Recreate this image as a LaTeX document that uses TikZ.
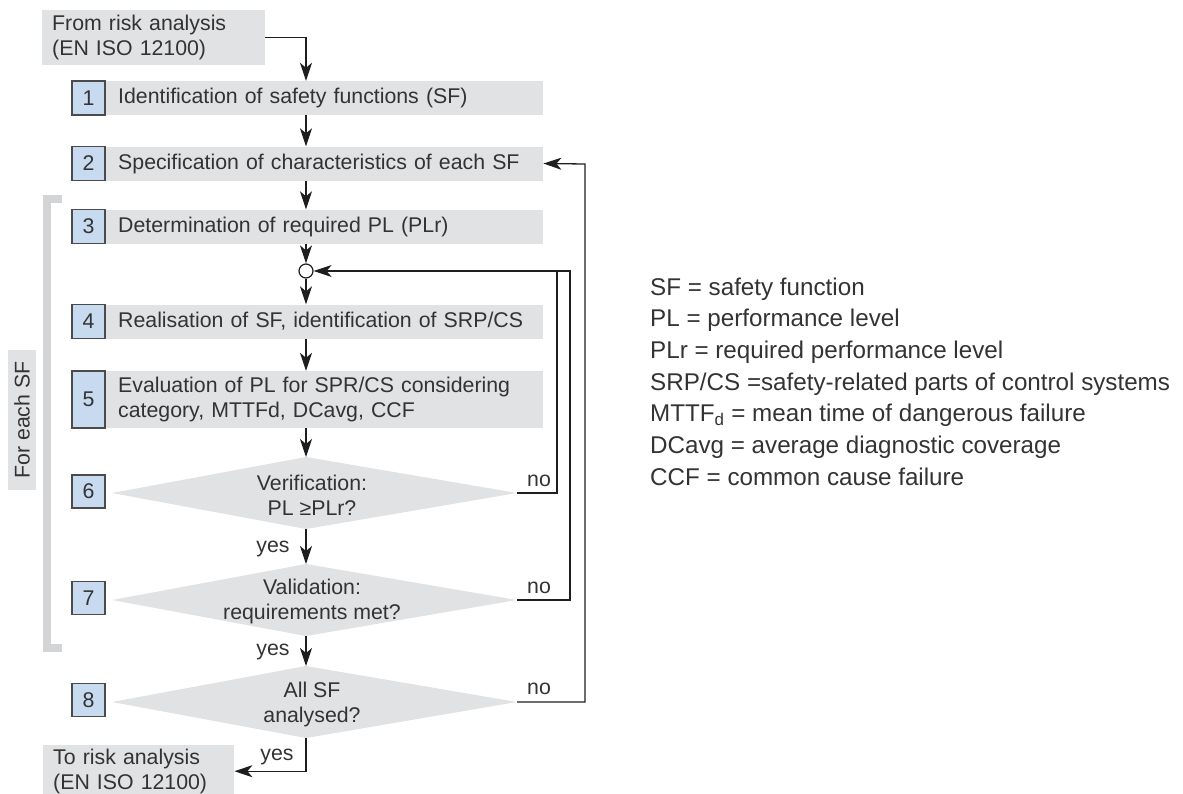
\documentclass[tikz,border=0pt]{standalone}
\usepackage{fontspec}
\setmainfont{Liberation Sans}
\usetikzlibrary{arrows.meta,calc}
\definecolor{barg}{HTML}{E1E2E4}
\definecolor{numb}{HTML}{C7DAF0}
\definecolor{brk}{HTML}{D3D4D6}
\definecolor{txt}{HTML}{333333}
\definecolor{ln}{HTML}{1E1E1E}
\begin{document}
\begin{tikzpicture}[x=1pt,y=-1pt,
  every node/.style={text=txt, font=\fontsize{21.3}{25}\selectfont},
  bar/.style={fill=barg, anchor=west, minimum height=34pt, minimum width=438pt, inner xsep=13pt, inner ysep=0pt, text width=412pt, align=left},
  numbox/.style={fill=numb, draw=ln!80, line width=1.2pt, minimum width=33pt, minimum height=33pt, inner sep=0pt},
  graybox/.style={fill=barg, inner xsep=10pt, inner ysep=0pt, align=left},
  arr/.style={draw=ln, line width=1.3pt, -{Stealth[length=18pt,width=12pt,inset=5pt]}},
  conn/.style={draw=ln, line width=1.3pt},
  dia/.style={fill=barg},
  lbl/.style={inner sep=0pt},
  leg/.style={anchor=base west, inner sep=0pt, font=\fontsize{24.2}{28}\selectfont},
  junc/.style={circle, draw=ln, fill=white, line width=1.2pt, minimum size=14pt, inner sep=0pt}]
\useasboundingbox (0,0) rectangle (1183,793);
\coordinate (ax) at (306,0);
% bracket and side label
\draw[brk, line width=8pt] (62,199) -- (47,199) -- (47,648) -- (62,648);
\node[fill=barg, minimum width=140pt, minimum height=28pt, inner sep=0pt, rotate=90] (each) at (22,420) {For each SF};
% start / end boxes
\node[graybox, anchor=north west, minimum width=223pt, minimum height=55pt, text width=203pt] (from) at (42,10) {From risk analysis\\(EN ISO 12100)};
\node[graybox, anchor=north west, minimum width=191pt, minimum height=52pt, text width=171pt] (to) at (43,745) {To risk analysis\\(EN ISO 12100)};
% process bars
\node[bar] (b1) at (105,98) {Identification of safety functions (SF)};
\node[bar] (b2) at (105,163.5) {Specification of characteristics of each SF};
\node[bar] (b3) at (105,226.5) {Determination of required PL (PLr)};
\node[bar] (b4) at (105,321.5) {Realisation of SF, identification of SRP/CS};
\node[bar, minimum height=57pt] (b5) at (105,399.5) {Evaluation of PL for SPR/CS considering\\category, MTTFd, DCavg, CCF};
% diamonds
\fill[dia] (112,493) -- (306,457) -- (517,493) -- (306,529) -- cycle;
\fill[dia] (112,600) -- (306,564) -- (517,600) -- (306,636) -- cycle;
\fill[dia] (112,702) -- (306,666) -- (517,702) -- (306,738) -- cycle;
\coordinate (d6t) at (306,457); \coordinate (d6b) at (306,529); \coordinate (d6r) at (517,493);
\coordinate (d7t) at (306,564); \coordinate (d7b) at (306,636); \coordinate (d7r) at (517,600);
\coordinate (d8t) at (306,666); \coordinate (d8b) at (306,738); \coordinate (d8r) at (517,702);
\node[align=center, inner sep=0pt] (d6) at (312,495.5) {Verification:\\PL ≥PLr?};
\node[align=center, inner sep=0pt] (d7) at (312,601) {Validation:\\requirements met?};
\node[align=center, inner sep=0pt] (d8) at (312,704.5) {All SF\\analysed?};
% number squares
\node[numbox, minimum height=34pt] (n1) at (88.5,98) {1};
\node[numbox, minimum height=34pt] (n2) at (88.5,163.5) {2};
\node[numbox, minimum height=34pt] (n3) at (88.5,226.5) {3};
\node[numbox, minimum height=34pt] (n4) at (88.5,321.5) {4};
\node[numbox, minimum height=57pt] (n5) at (88.5,399.5) {5};
\node[numbox] (n6) at (88.5,491.5) {6};
\node[numbox] (n7) at (88.5,598) {7};
\node[numbox] (n8) at (88.5,700) {8};
% junction
\node[junc] (j) at (306,271) {};
% main flow
\draw[arr] (from.east) -| (b1.north -| ax);
\draw[arr] (b1.south -| ax) -- (b2.north -| ax);
\draw[arr] (b2.south -| ax) -- (b3.north -| ax);
\draw[arr] (b3.south -| ax) -- (j.north);
\draw[arr] (j.south) -- (b4.north -| ax);
\draw[arr] (b4.south -| ax) -- (b5.north -| ax);
\draw[arr] (b5.south -| ax) -- (d6t);
\draw[arr] (d6b) -- (d7t);
\draw[arr] (d7b) -- (d8t);
\draw[arr] (d8b) |- (to.east);
% loops
\coordinate (r1) at (557,271);
\coordinate (r2) at (570,271);
\coordinate (r3) at (585,164);
\draw[conn] (d6r) -| (r1);
\draw[arr] (d7r) -| (r2) -- (j.east);
\draw[arr] (d8r) -| (r3) -- (b2.east);
% labels
\node[lbl] (y1) at (273,549) {yes};
\node[lbl] (y2) at (273,652) {yes};
\node[lbl] (y3) at (277,757) {yes};
\node[lbl] (no1) at (539,481) {no};
\node[lbl] (no2) at (539,588) {no};
\node[lbl] (no3) at (539,689) {no};
% legend
\node[leg] (l1) at (650,295) {SF = safety function};
\node[leg] (l2) at (650,326.7) {PL = performance level};
\node[leg] (l3) at (650,358.4) {PLr = required performance level};
\node[leg] (l4) at (650,390.1) {SRP/CS =safety-related parts of control systems};
\node[leg] (l5) at (650,421.8) {MTTF\textsubscript{d} = mean time of dangerous failure};
\node[leg] (l6) at (650,453.5) {DCavg = average diagnostic coverage};
\node[leg] (l7) at (650,485.2) {CCF = common cause failure};
\end{tikzpicture}
\end{document}
